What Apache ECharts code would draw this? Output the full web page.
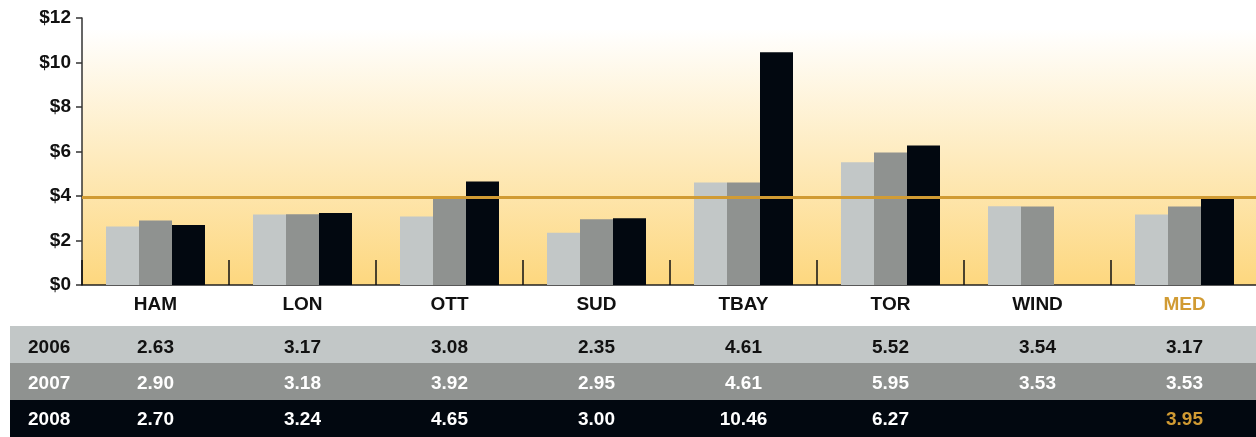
<!DOCTYPE html>
<html>
<head>
<meta charset="utf-8">
<title>Cost by site</title>
<script src="https://cdn.jsdelivr.net/npm/echarts@6/dist/echarts.min.js"></script>
<style>
  html, body { margin: 0; padding: 0; background: #fff; }
  #chart { width: 1256px; height: 437px; }
</style>
</head>
<body>
<div id="chart"></div>
<script>
// data
var categories = ['HAM', 'LON', 'OTT', 'SUD', 'TBAY', 'TOR', 'WIND', 'MED'];
var years = ['2006', '2007', '2008'];
var values2006 = [2.63, 3.17, 3.08, 2.35, 4.61, 5.52, 3.54, 3.17];
var values2007 = [2.90, 3.18, 3.92, 2.95, 4.61, 5.95, 3.53, 3.53];
var values2008 = [2.70, 3.24, 4.65, 3.00, 10.46, 6.27, null, 3.95];
var medianValue = values2008[7];

// look
var barColors = ['#c2c7c7', '#8f9290', '#020810'];
var rowText = ['#111111', '#ffffff', '#ffffff'];
var gold = '#d19b33';
var font = 'Liberation Sans';

var gridTop = 18, gridBottom = 152, gridLeft = 82;
var axisY = 437 - gridBottom;
var rowTop = [326, 363, 400], rowH = 37;
var rowCenter = [348, 384, 420];
var rows = [values2006, values2007, values2008];

var chart = echarts.init(document.getElementById('chart'));

var xAxes = [{
    type: 'category',
    data: categories,
    gridIndex: 0,
    position: 'bottom',
    axisLine: { lineStyle: { color: '#222', width: 1.5 } },
    axisTick: { show: true, inside: true, length: 25, lineStyle: { color: '#111', width: 1.5 } },
    axisLabel: {
        margin: 20, verticalAlign: 'middle',
        fontFamily: font, fontWeight: 'bold', fontSize: 19, color: '#111',
        formatter: function (v) { return v === 'MED' ? '{g|' + v + '}' : v; },
        rich: { g: { color: gold, fontFamily: font, fontWeight: 'bold', fontSize: 19 } }
    }
}];

rows.forEach(function (vals, r) {
    xAxes.push({
        type: 'category',
        data: categories,
        gridIndex: 0,
        position: 'bottom',
        offset: 0,
        axisLine: { show: false },
        axisTick: { show: false },
        axisLabel: {
            margin: rowCenter[r] - axisY,
            verticalAlign: 'middle',
            interval: 0,
            fontFamily: font, fontWeight: 'bold', fontSize: 19, color: rowText[r],
            formatter: function (v, i) {
                if (vals[i] == null) return '';
                var s = vals[i].toFixed(2);
                return (r === 2 && v === 'MED') ? '{g|' + s + '}' : s;
            },
            rich: { g: { color: gold, fontFamily: font, fontWeight: 'bold', fontSize: 19 } }
        }
    });
});

var graphics = [];
rows.forEach(function (vals, r) {
    graphics.push({
        type: 'rect', left: 10, top: rowTop[r], z: -10,
        shape: { width: 1246, height: rowH },
        style: { fill: barColors[r] }
    });
    graphics.push({
        type: 'text', x: 28, y: rowCenter[r], z: 10,
        style: { text: years[r], fill: rowText[r], font: 'bold 19px "' + font + '"', verticalAlign: 'middle' }
    });
});

chart.setOption({
    animation: false,
    grid: {
        left: gridLeft, right: -2, top: gridTop, bottom: gridBottom,
        outerBoundsMode: 'none',
        show: true, borderWidth: 0,
        backgroundColor: new echarts.graphic.LinearGradient(0, 0, 0, 1, [
            { offset: 0, color: '#ffffff' },
            { offset: 0.04, color: '#ffffff' },
            { offset: 1, color: '#fdd77e' }
        ])
    },
    xAxis: xAxes,
    yAxis: {
        type: 'value', min: 0, max: 12, interval: 2,
        axisLine: { show: true, lineStyle: { color: '#333', width: 1.5 } },
        axisTick: { show: true, length: 6, lineStyle: { color: '#333', width: 1.5 } },
        splitLine: { show: false },
        axisLabel: {
            margin: 11, fontFamily: font, fontWeight: 'bold', fontSize: 19, color: '#111',
            formatter: function (v) { return '$' + v; }
        }
    },
    graphic: graphics,
    series: [
        { name: years[0], type: 'bar', data: values2006, barWidth: 33, barGap: '0%', itemStyle: { color: barColors[0] } },
        { name: years[1], type: 'bar', data: values2007, barWidth: 33, barGap: '0%', itemStyle: { color: barColors[1] } },
        {
            name: years[2], type: 'bar', data: values2008, barWidth: 33, barGap: '0%', itemStyle: { color: barColors[2] },
            markLine: {
                silent: true, symbol: 'none', label: { show: false },
                lineStyle: { color: gold, width: 3, type: 'solid' },
                data: [{ yAxis: medianValue }]
            }
        }
    ]
});
</script>
</body>
</html>
